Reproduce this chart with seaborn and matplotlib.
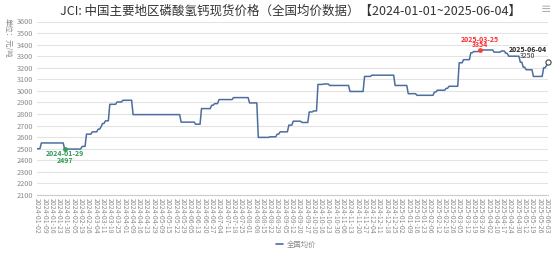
import numpy as np
import pandas as pd
import matplotlib
matplotlib.use("Agg")
import matplotlib.pyplot as plt
import seaborn as sns

# ---------------- data ----------------
title = "JCI: 中国主要地区磷酸氢钙现货价格（全国均价数据）【2024-01-01~2025-06-04】"
series_name = "全国均价"
y_label = "单位：元/吨"

start_date = "2024-01-02"
end_date = "2025-06-04"

# weekday holidays (no quote) and weekend make-up working days
holidays = ["2024-02-09", "2024-02-12", "2024-02-13", "2024-02-14", "2024-02-15", "2024-02-16",
            "2024-04-04", "2024-04-05", "2024-05-01", "2024-05-02", "2024-05-03", "2024-06-10",
            "2024-09-16", "2024-09-17", "2024-10-01", "2024-10-02", "2024-10-03", "2024-10-04",
            "2024-10-07", "2025-01-01", "2025-01-28", "2025-01-29", "2025-01-30", "2025-01-31",
            "2025-02-03", "2025-02-04", "2025-04-04", "2025-05-01", "2025-05-02", "2025-05-05",
            "2025-06-02"]
makeup_days = ["2024-02-04", "2024-02-18", "2024-04-07", "2024-04-28", "2024-05-11",
               "2024-09-14", "2024-09-29", "2024-10-12", "2025-01-26", "2025-02-08", "2025-04-27"]

# price change points (date, value) - price holds until next change
change_dates = ["2024-01-02", "2024-01-05", "2024-01-29", "2024-02-20", "2024-02-23", "2024-02-29",
                "2024-03-06", "2024-03-08", "2024-03-11", "2024-03-13", "2024-03-18", "2024-03-25",
                "2024-03-29", "2024-04-10", "2024-05-28", "2024-06-12", "2024-06-18", "2024-06-27",
                "2024-07-01", "2024-07-04", "2024-07-18", "2024-08-02", "2024-08-12", "2024-08-22",
                "2024-08-29", "2024-09-02", "2024-09-10", "2024-09-13", "2024-09-24", "2024-09-30",
                "2024-10-10", "2024-10-14", "2024-10-18", "2024-10-24", "2024-11-13", "2024-11-27",
                "2024-12-04", "2024-12-26", "2025-01-09", "2025-01-17", "2025-02-10", "2025-02-12",
                "2025-02-20", "2025-02-24", "2025-03-05", "2025-03-10", "2025-03-17", "2025-03-19",
                "2025-03-25", "2025-04-09", "2025-04-16", "2025-04-21", "2025-04-23", "2025-05-07",
                "2025-05-09", "2025-05-13", "2025-05-20", "2025-05-29", "2025-06-03", "2025-06-04"]
change_values = [2500, 2550, 2497, 2520, 2626, 2646,
                 2669, 2689, 2718, 2741, 2884, 2904,
                 2919, 2795, 2730, 2712, 2847, 2876,
                 2890, 2925, 2942, 2896, 2598, 2603,
                 2626, 2646, 2704, 2738, 2727, 2818,
                 2827, 3056, 3060, 3047, 2995, 3125,
                 3136, 3047, 2976, 2962, 2990, 3006,
                 3022, 3040, 3243, 3270, 3330, 3340,
                 3354, 3335, 3345, 3325, 3300, 3248,
                 3205, 3183, 3125, 3200, 3220, 3250]

tick_labels = ["2024-01-02", "2024-01-09", "2024-01-16", "2024-01-23", "2024-01-30", "2024-02-05",
               "2024-02-19", "2024-02-26", "2024-03-04", "2024-03-11", "2024-03-18", "2024-03-25",
               "2024-04-01", "2024-04-09", "2024-04-16", "2024-04-23", "2024-04-29", "2024-05-09",
               "2024-05-15", "2024-05-22", "2024-05-29", "2024-06-05", "2024-06-13", "2024-06-20",
               "2024-06-27", "2024-07-04", "2024-07-11", "2024-07-18", "2024-07-25", "2024-08-01",
               "2024-08-08", "2024-08-15", "2024-08-22", "2024-08-29", "2024-09-05", "2024-09-12",
               "2024-09-20", "2024-09-27", "2024-10-10", "2024-10-16", "2024-10-23", "2024-10-30",
               "2024-11-06", "2024-11-13", "2024-11-20", "2024-11-27", "2024-12-04", "2024-12-11",
               "2024-12-18", "2024-12-25", "2025-01-02", "2025-01-09", "2025-01-16", "2025-01-23",
               "2025-02-06", "2025-02-12", "2025-02-19", "2025-02-26", "2025-03-05", "2025-03-12",
               "2025-03-19", "2025-03-26", "2025-04-02", "2025-04-10", "2025-04-17", "2025-04-24",
               "2025-04-30", "2025-05-12", "2025-05-19", "2025-05-26", "2025-06-03"]

y_ticks = list(range(2100, 3700, 100))

# ---------------- build series ----------------
cal = pd.bdate_range(start_date, end_date)
cal = cal.difference(pd.to_datetime(holidays)).union(pd.to_datetime(makeup_days))
cal = cal[(cal >= pd.Timestamp(start_date)) & (cal <= pd.Timestamp(end_date))]
s = pd.Series(change_values, index=pd.to_datetime(change_dates)).reindex(cal, method="ffill")
df = pd.DataFrame({"pos": np.arange(len(cal)), "price": s.values, "date": cal})

# ---------------- style ----------------
sns.set_style("white")
plt.rcParams["font.family"] = ["Noto Sans CJK SC", "DejaVu Sans"]

line_color = "#4d6d9f"
fig = plt.figure(figsize=(5.54, 2.56), dpi=100)
ax = fig.add_axes([37 / 554, 1 - 195 / 256, (548 - 37) / 554, (195 - 21.5) / 256])

sns.lineplot(data=df, x="pos", y="price", color=line_color, linewidth=1.1, ax=ax, legend=False)

ax.set_xlim(0, len(cal) - 1)
ax.set_ylim(2100, 3600)
ax.set_yticks(y_ticks)
ax.set_yticklabels([str(v) for v in y_ticks], fontsize=5.3, color="#8a8a8a")
ax.grid(axis="y", color="#e3e3e3", linewidth=0.8)
ax.grid(axis="x", visible=False)
ax.tick_params(axis="y", length=0, pad=3)
ax.set_axisbelow(True)

tick_pos = [int(np.where(cal == pd.Timestamp(d))[0][0]) for d in tick_labels]
ax.set_xticks(tick_pos)
ax.set_xticklabels(tick_labels, rotation=-90, fontsize=4.9, color="#8a8a8a", ha="center", va="top")
ax.tick_params(axis="x", length=0, pad=2)

for sp in ["top", "right", "left"]:
    ax.spines[sp].set_visible(False)
ax.spines["bottom"].set_color("#cccccc")
ax.spines["bottom"].set_linewidth(0.8)
ax.set_xlabel("")
ax.set_ylabel("")

# y-axis name
fig.text(8 / 554, 1 - 38 / 256, y_label, rotation=-90, fontsize=5.3, color="#8a8a8a",
         ha="center", va="center")

# title
fig.text(290 / 554, 1 - 11 / 256, title, fontsize=9, color="#333333", ha="center", va="center")
fig.text(546 / 554, 1 - 9 / 256, "≡", fontsize=9, color="#b0b0b0", ha="center", va="center",
         family="DejaVu Sans")

# ---------------- mark points ----------------
i_min = int(df["price"].idxmin())
i_max = int(df["price"].idxmax())
i_end = len(df) - 1

def mark(i, color, date_color, val_color, dx, dy_date, dy_val, date_bold=True, val_bold=True):
    x, y = df.loc[i, "pos"], df.loc[i, "price"]
    ax.annotate(df.loc[i, "date"].strftime("%Y-%m-%d"), (x, y), xytext=(dx, dy_date),
                textcoords="offset pixels", ha="center", va="center", fontsize=5,
                color=date_color, fontweight="bold" if date_bold else "normal")
    ax.annotate(str(int(y)), (x, y), xytext=(dx, dy_val), textcoords="offset pixels",
                ha="center", va="center", fontsize=5, color=val_color,
                fontweight="bold" if val_bold else "normal")

ax.scatter([df.loc[i_min, "pos"]], [df.loc[i_min, "price"]], s=6, color="#3a9d5d", zorder=5)
mark(i_min, None, "#2f9a55", "#2f9a55", 0, -4, -11)
ax.scatter([df.loc[i_max, "pos"]], [df.loc[i_max, "price"]], s=6, color="#ff3b3b", zorder=5)
mark(i_max, None, "#ff2a2a", "#ff2a2a", 0, 10.5, 5)
ax.scatter([df.loc[i_end, "pos"]], [df.loc[i_end, "price"]], s=14, facecolor="white",
           edgecolor="#444444", linewidth=0.8, zorder=5, clip_on=False)
mark(i_end, None, "#222222", "#333333", -20, 12, 6, date_bold=True, val_bold=False)

# ---------------- legend ----------------
from matplotlib.lines import Line2D
h = Line2D([0], [0], color=line_color, linewidth=1.2)
fig.legend([h], [series_name], loc="center", bbox_to_anchor=(296 / 554, 1 - 245 / 256),
           frameon=False, fontsize=5.3, labelcolor="#8a8a8a", handlelength=1.0, handletextpad=0.4)

fig.savefig("out.png", dpi=100)
